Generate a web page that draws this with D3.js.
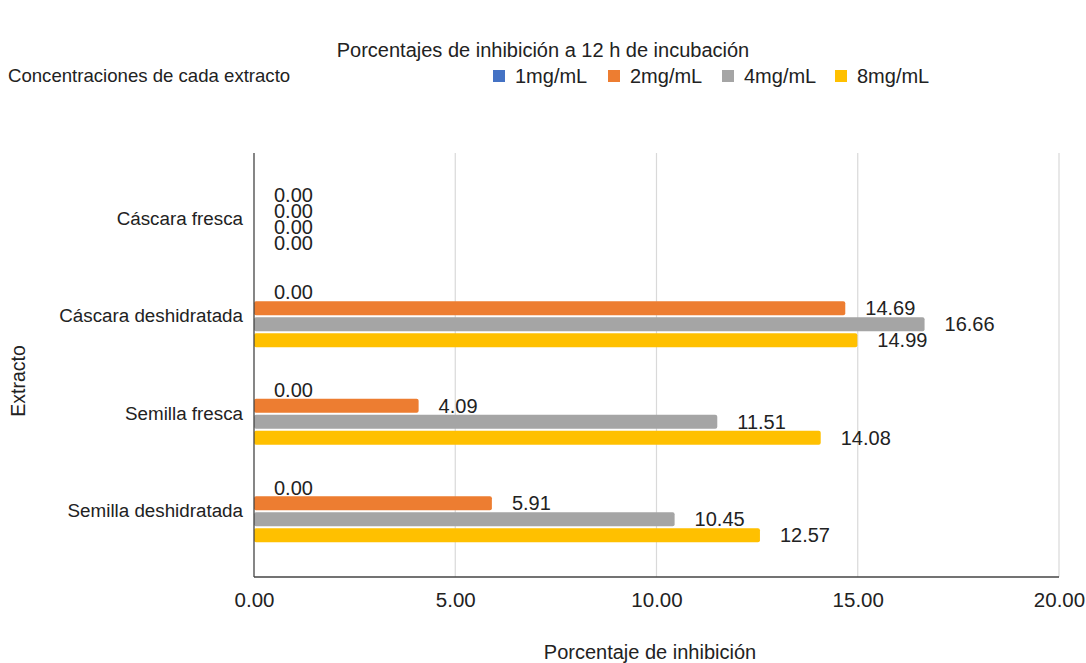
<!DOCTYPE html>
<html>
<head>
<meta charset="utf-8">
<script src="https://cdn.jsdelivr.net/npm/d3@7"></script>
<style>
  html, body { margin: 0; padding: 0; background: #fff; }
  svg { display: block; font-family: "Liberation Sans", Arial, sans-serif; }
</style>
</head>
<body>
<svg id="chart" width="1086" height="663"></svg>
<script>
// Extracts and concentrations
const categories = ["Cáscara fresca", "Cáscara deshidratada", "Semilla fresca", "Semilla deshidratada"];
const seriesNames = ["1mg/mL", "2mg/mL", "4mg/mL", "8mg/mL"];
const seriesColors = ["#4472c4", "#ed7d31", "#a5a5a5", "#ffc000"];

// Inhibition percentage per extract, one array per concentration
const values1 = [0.00, 0.00, 0.00, 0.00];
const values2 = [0.00, 14.69, 4.09, 5.91];
const values4 = [0.00, 16.66, 11.51, 10.45];
const values8 = [0.00, 14.99, 14.08, 12.57];
const seriesValues = [values1, values2, values4, values8];

const xTicks = [0, 5, 10, 15, 20];

(function drawChart() {
  const svg = d3.select("#chart");
  const plotLeft = 254, plotRight = 1059, plotTop = 153, plotBottom = 577;

  const x = d3.scaleLinear().domain([0, 20]).range([plotLeft, plotRight]);
  const y = d3.scaleBand().domain(categories).range([plotTop, plotBottom]).paddingInner(0).paddingOuter(0.174);
  const ySub = d3.scaleBand().domain(seriesNames).range([-31, 31]).paddingInner(0.12);

  const fmt = d3.format(".2f");

  // Title and subtitle
  svg.append("text").attr("x", 543).attr("y", 57).attr("text-anchor", "middle")
    .attr("font-size", 20).attr("fill", "#222")
    .text("Porcentajes de inhibición a 12 h de incubación");
  svg.append("text").attr("x", 8).attr("y", 82)
    .attr("font-size", 18.6).attr("fill", "#222")
    .text("Concentraciones de cada extracto");

  // Legend
  const legendX = [493, 608, 722, 835];
  const legend = svg.append("g");
  seriesNames.forEach((name, i) => {
    legend.append("rect").attr("x", legendX[i]).attr("y", 70).attr("width", 12).attr("height", 12)
      .attr("fill", seriesColors[i]);
    legend.append("text").attr("x", legendX[i] + 22).attr("y", 83)
      .attr("font-size", 20).attr("fill", "#222").text(name);
  });

  // Vertical gridlines
  svg.append("g").selectAll("line").data(xTicks.filter(d => d > 0)).join("line")
    .attr("x1", d => x(d)).attr("x2", d => x(d))
    .attr("y1", plotTop).attr("y2", plotBottom)
    .attr("stroke", "#d9d9d9").attr("stroke-width", 1.2);

  // X axis labels
  const xAxis = svg.append("g").attr("transform", `translate(0,${plotBottom})`)
    .call(d3.axisBottom(x).tickValues(xTicks).tickFormat(fmt).tickSize(0).tickPadding(15));
  xAxis.select(".domain").remove();
  xAxis.selectAll("text").attr("font-size", 20.5).attr("fill", "#222")
    .attr("font-family", "Liberation Sans, Arial, sans-serif");

  // Y axis labels
  const yAxis = svg.append("g").attr("transform", `translate(${plotLeft},0)`)
    .call(d3.axisLeft(y).tickSize(0).tickPadding(11));
  yAxis.select(".domain").remove();
  yAxis.selectAll("text").attr("font-size", 18.8).attr("fill", "#222")
    .attr("font-family", "Liberation Sans, Arial, sans-serif");

  // Bars and value labels
  seriesNames.forEach((name, si) => {
    const g = svg.append("g");
    const rows = categories.map((c, ci) => ({ c, v: seriesValues[si][ci] }));
    const bandY = d => y(d.c) + y.bandwidth() / 2 + ySub(name);
    g.selectAll("rect").data(rows.filter(d => d.v > 0)).join("rect")
      .attr("x", x(0)).attr("y", bandY)
      .attr("width", d => x(d.v) - x(0)).attr("height", ySub.bandwidth())
      .attr("rx", 2).attr("fill", seriesColors[si]);
    g.selectAll("text").data(rows).join("text")
      .attr("x", d => x(d.v) + 20)
      .attr("y", d => bandY(d) + ySub.bandwidth() / 2)
      .attr("dy", "0.36em")
      .attr("font-size", 20).attr("fill", "#222")
      .text(d => fmt(d.v));
  });

  // Axis lines (left and bottom)
  svg.append("line").attr("x1", plotLeft).attr("x2", plotLeft).attr("y1", plotTop).attr("y2", plotBottom)
    .attr("stroke", "#444").attr("stroke-width", 1.3);
  svg.append("line").attr("x1", plotLeft).attr("x2", plotRight).attr("y1", plotBottom).attr("y2", plotBottom)
    .attr("stroke", "#444").attr("stroke-width", 1.3);

  // Axis titles
  svg.append("text").attr("x", 650).attr("y", 659).attr("text-anchor", "middle")
    .attr("font-size", 20).attr("fill", "#222").text("Porcentaje de inhibición");
  svg.append("text").attr("transform", "translate(25,381) rotate(-90)").attr("text-anchor", "middle")
    .attr("font-size", 19.5).attr("fill", "#222").text("Extracto");
})();
</script>
</body>
</html>
